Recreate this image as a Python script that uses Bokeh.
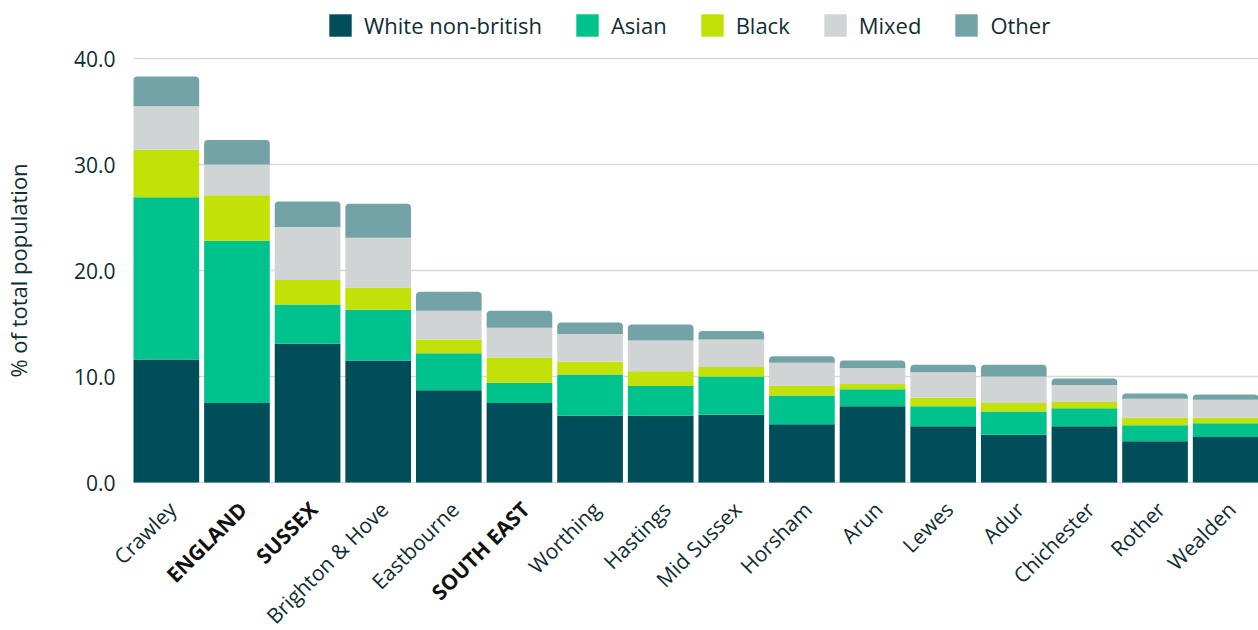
import numpy as np
from bokeh.plotting import figure
from bokeh.models import ColumnDataSource, Range1d, Legend, LegendItem, LabelSet
from bokeh.core.properties import value
from bokeh.embed import file_html
from bokeh.resources import INLINE

categories = ["Crawley", "ENGLAND", "SUSSEX", "Brighton & Hove", "Eastbourne", "SOUTH EAST",
              "Worthing", "Hastings", "Mid Sussex", "Horsham", "Arun", "Lewes", "Adur",
              "Chichester", "Rother", "Wealden"]
bold_labels = ["ENGLAND", "SUSSEX", "SOUTH EAST"]
series_names = ["White non-british", "Asian", "Black", "Mixed", "Other"]
white = [11.6, 7.5, 13.1, 11.5, 8.7, 7.5, 6.3, 6.3, 6.4, 5.5, 7.2, 5.3, 4.5, 5.3, 3.9, 4.3]
asian = [15.3, 15.3, 3.7, 4.8, 3.5, 1.9, 3.9, 2.8, 3.6, 2.7, 1.6, 1.9, 2.2, 1.7, 1.5, 1.3]
black = [4.5, 4.3, 2.3, 2.1, 1.3, 2.4, 1.2, 1.4, 0.9, 0.9, 0.5, 0.8, 0.8, 0.6, 0.7, 0.5]
mixed = [4.1, 2.9, 5.0, 4.7, 2.7, 2.8, 2.6, 2.9, 2.6, 2.2, 1.5, 2.4, 2.5, 1.6, 1.8, 1.7]
other = [2.8, 2.3, 2.4, 3.2, 1.8, 1.6, 1.1, 1.5, 0.8, 0.6, 0.7, 0.7, 1.1, 0.6, 0.5, 0.5]
y_ticks = [0, 10, 20, 30, 40]
y_tick_labels = ["0.0", "10.0", "20.0", "30.0", "40.0"]
y_title = "% of total population"

colors = ["#004E5A", "#00C28C", "#C2E106", "#D0D4D5", "#73A3A7"]
TEXT = "#0F2D33"
FONT = "Open Sans"

n = len(categories)
xs = np.arange(n)
W = 0.93

# frame spans the full canvas; plot area: x 133..1258 px, y 0 -> 482 px, 40 -> 58 px
PX = 10.6
STEP = 1125 / (n - 1 + W)
x_lo = -W / 2 - 133 / STEP
x_hi = n - 1 + W / 2
y_lo = -(630 - 482) / PX
y_hi = 40 + 58 / PX

p = figure(width=1258, height=630, output_backend="svg", toolbar_location=None,
           x_range=Range1d(x_lo, x_hi), y_range=Range1d(y_lo, y_hi),
           min_border_left=0, min_border_right=0, min_border_top=0, min_border_bottom=0)
p.outline_line_color = None
p.background_fill_color = "white"
p.border_fill_color = "white"
p.axis.visible = False
p.grid.visible = False

# gridlines across the plot area
p.segment(x0=[-W / 2] * len(y_ticks), x1=[x_hi] * len(y_ticks), y0=y_ticks, y1=y_ticks,
          line_color="#D6DADB", line_width=1.5)

data = [white, asian, black, mixed, other]
bottom = np.zeros(n)
items = []
for i, (name, vals, col) in enumerate(zip(series_names, data, colors)):
    vals = np.array(vals)
    src = ColumnDataSource(dict(x=xs, bottom=bottom.copy(), top=bottom + vals))
    kw = {}
    if i == len(data) - 1:
        kw["border_radius"] = (4, 4, 0, 0)
    r = p.vbar(x="x", bottom="bottom", top="top", width=W, source=src,
               fill_color=col, line_color=None, **kw)
    items.append(LegendItem(label=name, renderers=[r]))
    bottom = bottom + vals

legend = Legend(items=items, orientation="horizontal", location=(326, 590),
                glyph_width=28, glyph_height=28, label_standoff=10, spacing=31,
                padding=0, margin=0, border_line_color=None, background_fill_alpha=0,
                label_text_font=FONT, label_text_font_size="22px", label_text_color=TEXT)
p.add_layout(legend, "center")

# y tick labels and title
p.text(x=[-W / 2] * len(y_ticks), y=y_ticks, text=y_tick_labels, x_offset=-18,
       text_align="right", text_baseline="middle", text_font=value(FONT),
       text_font_size="21px", text_color=TEXT)
p.text(x=[x_lo], y=[20], text=[y_title], x_offset=17, angle=np.pi / 2,
       text_align="center", text_baseline="middle", text_font=value(FONT),
       text_font_size="22px", text_color=TEXT)

# category labels
norm = [c for c in categories if c not in bold_labels]
bold = [c for c in categories if c in bold_labels]
src_n = ColumnDataSource(dict(x=[categories.index(c) for c in norm], y=[0] * len(norm), t=norm))
src_b = ColumnDataSource(dict(x=[categories.index(c) for c in bold], y=[0] * len(bold), t=bold))
for src, style, col in [(src_n, "normal", TEXT), (src_b, "bold", "#111111")]:
    ls = LabelSet(x="x", y="y", text="t", source=src, angle=np.pi / 4,
                  x_offset=6, y_offset=-23, text_align="right", text_baseline="middle",
                  text_font=value(FONT), text_font_size="21px", text_font_style=style,
                  text_color=col)
    p.add_layout(ls)

open("out.html", "w").write(file_html(p, INLINE))
